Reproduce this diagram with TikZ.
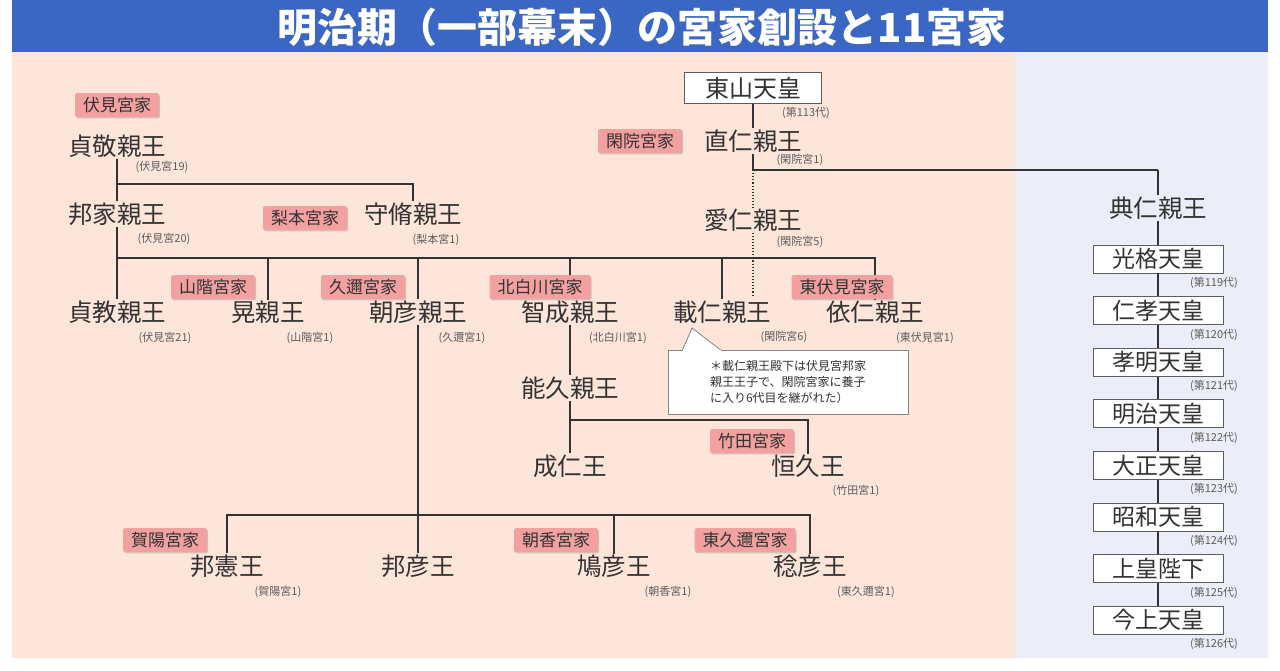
\documentclass[tikz,border=0pt]{standalone}
\usepackage{fontspec}
\setmainfont{Noto Sans CJK JP}
\usetikzlibrary{shadows}
\definecolor{titleblue}{HTML}{3A66C4}
\definecolor{pinkbg}{HTML}{FDE5DA}
\definecolor{bluebg}{HTML}{EBEEF8}
\definecolor{tagc}{HTML}{F3A0A0}
\definecolor{ink}{HTML}{333333}
\begin{document}
\begin{tikzpicture}[x=1pt,y=-1pt,
  nm/.style={font=\fontsize{24.5}{26}\selectfont,text=ink,inner sep=1pt},
  sb/.style={font=\fontsize{11}{12}\selectfont,text=ink!80,inner sep=0pt},
  tag/.style={fill=tagc,rounded corners=2pt,font=\fontsize{17}{18}\selectfont,text=ink,inner xsep=8pt,inner ysep=4pt,drop shadow={shadow xshift=1pt,shadow yshift=-1.5pt,opacity=0.35}},
  emp/.style={draw=ink!80,fill=white,line width=0.8pt,minimum width=130pt,minimum height=28pt,inner sep=0pt,font=\fontsize{23}{24}\selectfont,text=ink},
  ln/.style={draw=ink,line width=1.3pt},
  dl/.style={draw=ink,line width=1.1pt,dotted}]
\useasboundingbox (0,0) rectangle (1280,670);
\fill[white] (0,0) rectangle (1280,670);
\fill[titleblue] (12,0) rectangle (1268,52);
\fill[pinkbg] (12,52) rectangle (1015,658);
\fill[bluebg] (1015,52) rectangle (1268,658);
\node[text=white,font=\bfseries\fontsize{40}{42}\selectfont] (title) at (642,27) {明治期（一部幕末）の宮家創設と11宮家};

% left branch
\node[tag] (tfushimi) at (117,105) {伏見宮家};
\node[nm] (sadayoshi) at (117,146) {貞敬親王};
\node[sb] at (162,167) {(伏見宮19)};
\node[nm] (kuniie) at (117,214) {邦家親王};
\node[sb] at (164,239) {(伏見宮20)};
\node[tag] (tnashi) at (305,218) {梨本宮家};
\node[nm] (moriosa) at (413,214) {守脩親王};
\node[sb] at (436,240) {(梨本宮1)};
\coordinate (j1) at (117,184);
\coordinate (j1r) at (413,184);
\draw[ln] (sadayoshi) -- (kuniie);
\draw[ln] (j1) -- (j1r) -- (moriosa.north);

\node[nm] (sadanori) at (117,312) {貞教親王};
\node[sb] at (165,338) {(伏見宮21)};
\node[nm] (akira) at (268,312) {晃親王};
\node[sb] at (310,338) {(山階宮1)};
\node[nm] (asahiko) at (418,312) {朝彦親王};
\node[sb] at (462,338) {(久邇宮1)};
\node[nm] (yoshihisaP) at (570,312) {智成親王};
\node[sb] at (618,338) {(北白川宮1)};
\node[nm] (kotohito) at (722,312) {載仁親王};
\node[sb] at (784,337) {(閑院宮6)};
\node[nm] (yorihito) at (875,312) {依仁親王};
\node[sb] at (925,338) {(東伏見宮1)};
\coordinate (h2l) at (117,258);
\coordinate (h2r) at (875,258);
\draw[ln] (kuniie) -- (sadanori);
\draw[ln] (h2l) -- (h2r) -- (yorihito.north);
\draw[ln] (akira.north |- h2l) -- (akira.north);
\draw[ln] (asahiko.north |- h2l) -- (asahiko.north);
\draw[ln] (yoshihisaP.north |- h2l) -- (yoshihisaP.north);
\draw[ln] (kotohito.north |- h2l) -- (kotohito.north);
\node[tag] (tyama) at (213,287) {山階宮家};
\node[tag] (tkuni) at (363,287) {久邇宮家};
\node[tag] (tkita) at (540,287) {北白川宮家};
\node[tag] (thigashi) at (842,287) {東伏見宮家};

% Kan'in
\node[draw=ink!80,fill=white,line width=0.8pt,minimum width=137pt,minimum height=31pt,inner sep=0pt,font=\fontsize{24}{26}\selectfont,text=ink] (higashiyama) at (753,88) {東山天皇};
\node[sb] at (806,113) {(第113代)};
\node[tag] (tkan) at (640,141) {閑院宮家};
\node[nm] (naohito) at (753,141) {直仁親王};
\node[sb] at (800,160) {(閑院宮1)};
\node[nm] (naruhito) at (753,220) {愛仁親王};
\node[sb] at (800,242) {(閑院宮5)};
\draw[ln] (higashiyama) -- (naohito);
\coordinate (k1) at (753,170);
\coordinate (k1r) at (1158,170);
\draw[ln] (naohito) -- (k1) -- (k1r);
\draw[dl] (k1) -- (naruhito.north);
\draw[dl] (naruhito.south) -- (753,296) coordinate (kd);

% callout
\node[draw=ink!60,fill=white,line width=0.8pt,align=left,font=\fontsize{12}{16}\selectfont,text=ink,minimum width=240pt,minimum height=64pt,inner xsep=6pt] (note) at (788,382) {＊載仁親王殿下は伏見宮邦家\\親王王子で、閑院宮家に養子\\に入り6代目を継がれた）};
\coordinate (ptip) at (692,328);
\fill[white,draw=ink!60,line width=0.8pt] (682,351) -- (ptip) -- (722,351);
\fill[white] (683,349.5) rectangle (721,352.5);

% Kitashirakawa line
\node[nm] (yoshihisa) at (570,388) {能久親王};
\node[nm] (takehito) at (570,466) {成仁王};
\node[nm] (tsunehisa) at (808,466) {恒久王};
\node[sb] at (856,491) {(竹田宮1)};
\draw[ln] (yoshihisaP) -- (yoshihisa);
\draw[ln] (yoshihisa) -- (takehito);
\coordinate (t1) at (570,420);
\coordinate (t1r) at (808,420);
\draw[ln] (t1) -- (t1r) -- (tsunehisa.north);
\node[tag] (ttake) at (752,441) {竹田宮家};

% Kuni line
\node[nm] (kuninori) at (227,566) {邦憲王};
\node[sb] at (278,592) {(賀陽宮1)};
\node[nm] (kunihiko) at (418,566) {邦彦王};
\node[nm] (yasuhiko) at (614,566) {鳩彦王};
\node[sb] at (668,592) {(朝香宮1)};
\node[nm] (naruhiko) at (810,566) {稔彦王};
\node[sb] at (866,592) {(東久邇宮1)};
\draw[ln] (asahiko) -- (kunihiko);
\coordinate (b1) at (227,515);
\coordinate (b1r) at (810,515);
\draw[ln] (kuninori.north) -- (b1) -- (b1r) -- (naruhiko.north);
\draw[ln] (yasuhiko.north |- b1) -- (yasuhiko.north);
\node[tag] (tkaya) at (165,540) {賀陽宮家};
\node[tag] (tasaka) at (556,540) {朝香宮家};
\node[tag] (thk) at (745,540) {東久邇宮家};

% Imperial line
\node[nm] (sukehito) at (1158,208) {典仁親王};
\draw[ln] (k1r) -- (sukehito.north);
\foreach \n/\t/\g [count=\i from 0] in {e1/光格天皇/119,e2/仁孝天皇/120,e3/孝明天皇/121,e4/明治天皇/122,e5/大正天皇/123,e6/昭和天皇/124,e7/上皇陛下/125,e8/今上天皇/126}{
  \node[emp] (\n) at (1158,259+51.6*\i) {\t};
  \node[sb] at (1214,283+51.6*\i) {(第\g 代)};
}
\draw[ln] (sukehito) -- (e1);
\foreach \a/\b in {e1/e2,e2/e3,e3/e4,e4/e5,e5/e6,e6/e7,e7/e8}{\draw[ln] (\a) -- (\b);}
\end{tikzpicture}
\end{document}
